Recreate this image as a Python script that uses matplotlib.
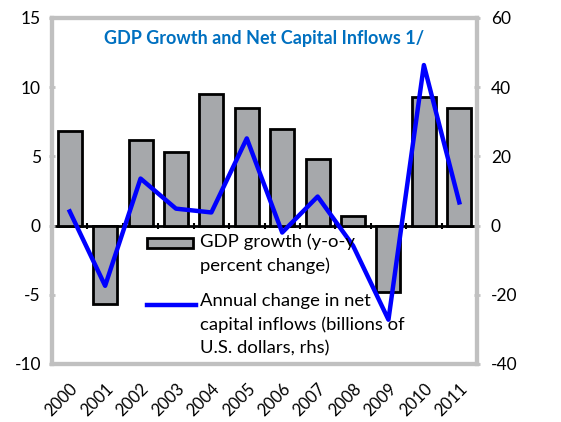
import numpy as np
import matplotlib.pyplot as plt
from matplotlib.patches import Rectangle
from matplotlib.lines import Line2D

plt.rcParams['font.family'] = ['Lato', 'DejaVu Sans']
plt.rcParams['axes.unicode_minus'] = False

years = ['2000', '2001', '2002', '2003', '2004', '2005',
         '2006', '2007', '2008', '2009', '2010', '2011']
gdp_growth = [6.8, -5.7, 6.2, 5.3, 9.5, 8.5, 7.0, 4.8, 0.7, -4.8, 9.3, 8.5]
capital_inflows = [4.1, -17.4, 13.6, 4.9, 3.8, 25.2, -2.0, 8.4, -5.8, -27.2, 46.4, 6.7]

frame_gray = '#c0c0c0'
bar_gray = '#a6a8ab'
line_blue = '#0000ff'

fig = plt.figure(figsize=(5.61, 4.22), dpi=100)
ax = fig.add_axes([52 / 561, (422 - 364) / 422, 425 / 561, 346 / 422])
x = np.arange(len(years))

ax.bar(x, gdp_growth, width=0.68, color=bar_gray, edgecolor='black', linewidth=2, zorder=2)
ax.set_xlim(-0.5, len(years) - 0.5)
ax.set_ylim(-10, 15)
ax.set_yticks([-10, -5, 0, 5, 10, 15])
ax.set_xticks(x)
ax.set_xticklabels(years, rotation=45, ha='right', rotation_mode='anchor', fontsize=12)
ax.tick_params(axis='x', length=0, pad=12)
ax.tick_params(axis='y', labelsize=12.5, length=4, width=2, color=frame_gray, direction='inout', pad=6)
for s in ax.spines.values():
    s.set_color(frame_gray)
    s.set_linewidth(3)

# zero line with category separators
zero_ax = ax.secondary_xaxis(10 / 25)
zero_ax.spines['bottom'].set_color('black')
zero_ax.spines['bottom'].set_linewidth(2)
zero_ax.set_xticks(np.arange(-0.5, len(years)))
zero_ax.set_xticklabels([])
zero_ax.tick_params(length=5, width=1.5, direction='inout', color='black')

ax2 = ax.twinx()
ax2.plot(x, capital_inflows, color=line_blue, linewidth=3.2, zorder=3)
ax2.set_ylim(-40, 60)
ax2.set_yticks([-40, -20, 0, 20, 40, 60])
ax2.tick_params(axis='y', labelsize=12.5, length=4, width=2, color=frame_gray, direction='inout', pad=8)
for s in ax2.spines.values():
    s.set_color(frame_gray)
    s.set_linewidth(3)

ax2.text(0.5, 0.94, 'GDP Growth and Net Capital Inflows 1/', transform=ax2.transAxes,
         ha='center', va='center', color='#0070c0', fontsize=13, fontweight='bold')

# legend, drawn by hand so the keys sit beside the first line of each label
tr = ax2.transAxes
ax2.add_patch(Rectangle((0.2235, 0.335), 0.1085, 0.029, transform=tr, facecolor=bar_gray,
                        edgecolor='black', linewidth=2, zorder=5))
ax2.add_line(Line2D([0.2235, 0.339], [0.1705, 0.1705], transform=tr, color=line_blue,
                    linewidth=3.2, zorder=5))
ax2.text(0.348, 0.378, 'GDP growth (y-o-y\npercent change)', transform=tr,
         ha='left', va='top', fontsize=13.3, linespacing=1.55, zorder=5)
ax2.text(0.348, 0.204, 'Annual change in net\ncapital inflows (billions of\nU.S. dollars, rhs)',
         transform=tr, ha='left', va='top', fontsize=13.3, linespacing=1.55, zorder=5)

fig.savefig('out.png', dpi=100)
